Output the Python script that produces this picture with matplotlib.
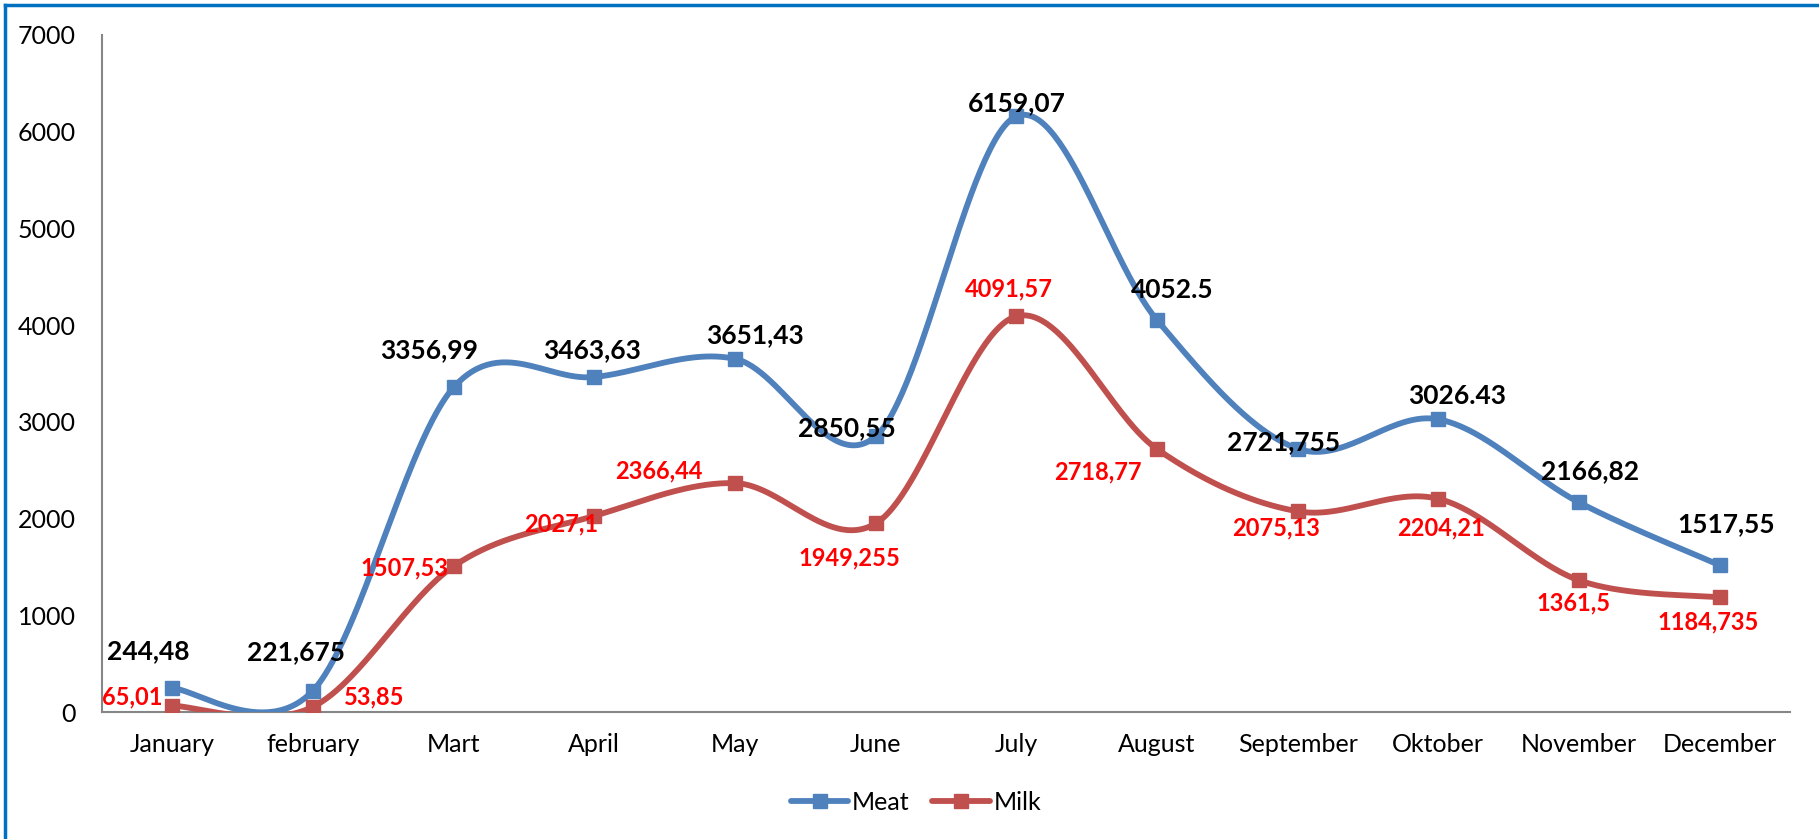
import numpy as np
import matplotlib
matplotlib.use("Agg")
import matplotlib.pyplot as plt
from matplotlib.lines import Line2D

months = ["January", "february", "Mart", "April", "May", "June", "July",
          "August", "September", "Oktober", "November", "December"]
meat = [244.48, 221.675, 3356.99, 3463.63, 3651.43, 2850.55, 6159.07,
        4052.5, 2721.755, 3026.43, 2166.82, 1517.55]
milk = [65.01, 53.85, 1507.53, 2027.1, 2366.44, 1949.255, 4091.57,
        2718.77, 2075.13, 2204.21, 1361.5, 1184.735]
meat_labels = ["244,48", "221,675", "3356,99", "3463,63", "3651,43", "2850,55",
               "6159,07", "4052.5", "2721,755", "3026.43", "2166,82", "1517,55"]
milk_labels = ["65,01", "53,85", "1507,53", "2027,1", "2366,44", "1949,255",
               "4091,57", "2718,77", "2075,13", "2204,21", "1361,5", "1184,735"]
yticks = [0, 1000, 2000, 3000, 4000, 5000, 6000, 7000]

# label offsets in pixels (dx, dy; dy positive = up)
meat_off = [(-24, 37), (-17, 38), (-25, 37), (-2, 27), (20, 24), (-29, 8),
            (0, 13), (15, 30), (-14, 7), (19, 23), (11, 31), (6, 41)]
milk_off = [(-40, 9), (61, 10), (-49, -2), (-33, -8), (-76, 12), (-26, -34),
            (-7, 27), (-59, -23), (-22, -17), (3, -29), (-5, -23), (-11, -25)]

plt.rcParams['font.family'] = ['Lato', 'DejaVu Sans']

BLUE = '#4F81BD'
RED = '#C0504D'


def smooth(y, n=60):
    y = np.asarray(y, float)
    x = np.arange(len(y), dtype=float)
    P = np.column_stack([x, y])
    xs, ys = [], []
    for i in range(len(P) - 1):
        p0 = P[i - 1] if i > 0 else P[i]
        p1 = P[i]
        p2 = P[i + 1]
        p3 = P[i + 2] if i + 2 < len(P) else P[i + 1]
        c1 = p1 + (p2 - p0) / 6.0
        c2 = p2 - (p3 - p1) / 6.0
        t = np.linspace(0, 1, n)[:, None]
        b = ((1 - t) ** 3) * p1 + 3 * ((1 - t) ** 2) * t * c1 + 3 * (1 - t) * t ** 2 * c2 + t ** 3 * p2
        xs.append(b[:, 0]); ys.append(b[:, 1])
    return np.concatenate(xs), np.concatenate(ys)


fig = plt.figure(figsize=(18.19, 8.39), dpi=100)
ax = fig.add_axes([102 / 1819, 1 - 712 / 839, (1790 - 102) / 1819, (712 - 35) / 839])

x = np.arange(len(months))
for vals, col in [(meat, BLUE), (milk, RED)]:
    sx, sy = smooth(vals)
    ax.plot(sx, sy, color=col, lw=4.2, solid_capstyle='round', zorder=3)
    ax.plot(x, vals, ls='none', marker='s', ms=10.5, color=col, zorder=4)

for i in range(len(months)):
    ax.annotate(meat_labels[i], (x[i], meat[i]), xytext=meat_off[i],
                textcoords='offset pixels', ha='center', va='center',
                fontsize=19, fontweight='bold', color='black', zorder=5)
    ax.annotate(milk_labels[i], (x[i], milk[i]), xytext=milk_off[i],
                textcoords='offset pixels', ha='center', va='center',
                fontsize=17, fontweight='bold', color='#FF0000', zorder=5)

ax.set_xlim(-0.5, len(months) - 0.5)
ax.set_ylim(0, 7000)
ax.set_yticks(yticks)
ax.set_xticks(x)
ax.set_xticklabels(months)
ax.tick_params(axis='both', length=0, labelsize=18, colors='black')
ax.tick_params(axis='y', pad=19)
ax.tick_params(axis='x', pad=15)
for s in ['top', 'right']:
    ax.spines[s].set_visible(False)
for s in ['left', 'bottom']:
    ax.spines[s].set_color('#868686')
    ax.spines[s].set_linewidth(1.5)

handles = [Line2D([], [], color=BLUE, lw=4.2, marker='s', ms=10.5, solid_capstyle='round'),
           Line2D([], [], color=RED, lw=4.2, marker='s', ms=10.5, solid_capstyle='round')]
fig.legend(handles, ['Meat', 'Milk'], loc='center', bbox_to_anchor=(916 / 1819, 1 - 802 / 839),
           ncol=2, frameon=False, fontsize=18, handlelength=2.3, columnspacing=0.9,
           handletextpad=0.15)

# blue border (top and left)
fig.add_artist(Line2D([5 / 1819, 5 / 1819], [0, 1 - 5 / 839], color='#0070C0', lw=2.5,
                      transform=fig.transFigure))
fig.add_artist(Line2D([5 / 1819, 1], [1 - 5 / 839, 1 - 5 / 839], color='#0070C0', lw=2.5,
                      transform=fig.transFigure))

fig.savefig('out.png', dpi=100)
